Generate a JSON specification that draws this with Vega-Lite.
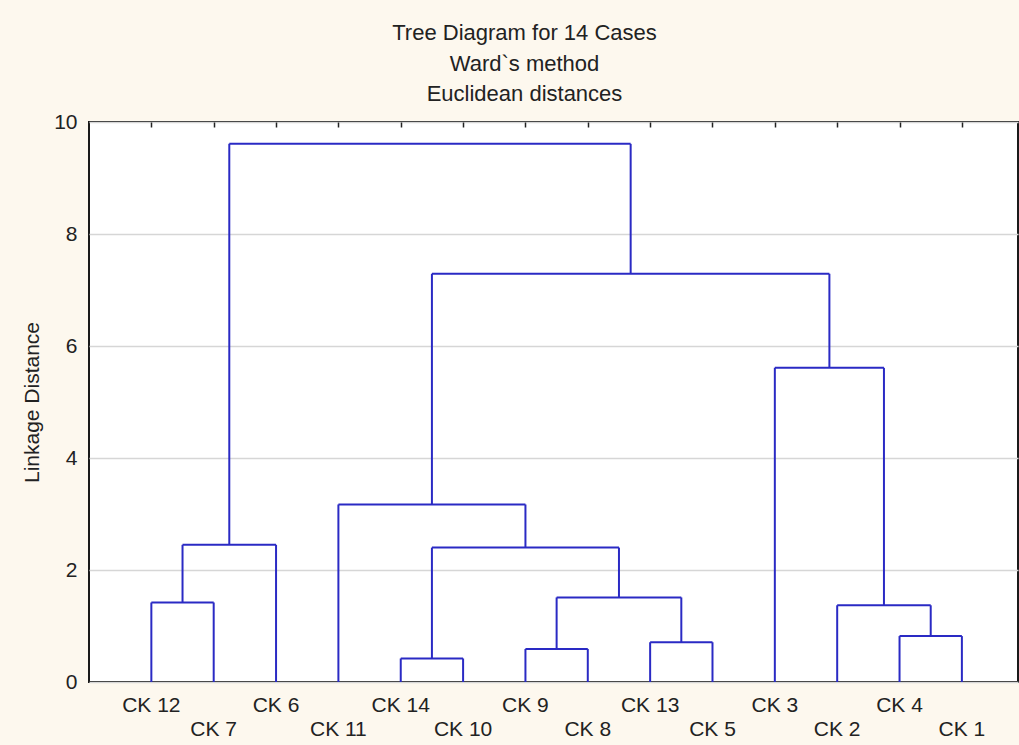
{
  "$schema": "https://vega.github.io/schema/vega-lite/v6.json",
  "width": 929,
  "height": 560,
  "autosize": "none",
  "padding": {"left": 89, "top": 122, "right": 1, "bottom": 63},
  "background": "#fdf8ee",
  "config": {
    "view": {"fill": "white", "stroke": "#1a1a1a", "strokeWidth": 2},
    "font": "Liberation Sans"
  },
  "title": {
    "text": ["Tree Diagram for 14 Cases", "Ward`s method", "Euclidean distances"],
    "fontSize": 22,
    "fontWeight": "normal",
    "lineHeight": 30.5,
    "anchor": "middle",
    "frame": "group",
    "dx": -29,
    "offset": 5,
    "color": "#222222"
  },
  "datasets": {
    "merges": [
      {"cluster": "CK 12 + CK 7", "xl": 1, "xr": 2, "hl": 0, "hr": 0, "h": 1.42},
      {"cluster": "+ CK 6", "xl": 1.5, "xr": 3, "hl": 1.42, "hr": 0, "h": 2.45},
      {"cluster": "CK 14 + CK 10", "xl": 5, "xr": 6, "hl": 0, "hr": 0, "h": 0.42},
      {"cluster": "CK 9 + CK 8", "xl": 7, "xr": 8, "hl": 0, "hr": 0, "h": 0.59},
      {"cluster": "CK 13 + CK 5", "xl": 9, "xr": 10, "hl": 0, "hr": 0, "h": 0.71},
      {"cluster": "(9,8) + (13,5)", "xl": 7.5, "xr": 9.5, "hl": 0.59, "hr": 0.71, "h": 1.51},
      {"cluster": "(14,10) + (9,8,13,5)", "xl": 5.5, "xr": 8.5, "hl": 0.42, "hr": 1.51, "h": 2.40},
      {"cluster": "CK 11 + ...", "xl": 4, "xr": 7, "hl": 0, "hr": 2.40, "h": 3.17},
      {"cluster": "CK 4 + CK 1", "xl": 13, "xr": 14, "hl": 0, "hr": 0, "h": 0.82},
      {"cluster": "CK 2 + (4,1)", "xl": 12, "xr": 13.5, "hl": 0, "hr": 0.82, "h": 1.37},
      {"cluster": "CK 3 + (2,4,1)", "xl": 11, "xr": 12.75, "hl": 0, "hr": 1.37, "h": 5.61},
      {"cluster": "middle + right", "xl": 5.5, "xr": 11.875, "hl": 3.17, "hr": 5.61, "h": 7.29},
      {"cluster": "root", "xl": 2.25, "xr": 8.6875, "hl": 2.45, "hr": 7.29, "h": 9.61}
    ],
    "leaves": [
      {"pos": 1, "name": "CK 12"},
      {"pos": 2, "name": "CK 7"},
      {"pos": 3, "name": "CK 6"},
      {"pos": 4, "name": "CK 11"},
      {"pos": 5, "name": "CK 14"},
      {"pos": 6, "name": "CK 10"},
      {"pos": 7, "name": "CK 9"},
      {"pos": 8, "name": "CK 8"},
      {"pos": 9, "name": "CK 13"},
      {"pos": 10, "name": "CK 5"},
      {"pos": 11, "name": "CK 3"},
      {"pos": 12, "name": "CK 2"},
      {"pos": 13, "name": "CK 4"},
      {"pos": 14, "name": "CK 1"}
    ]
  },
  "layer": [
    {
      "data": {"name": "merges"},
      "mark": {"type": "rule", "color": "#2a2ac4", "strokeWidth": 2},
      "encoding": {
        "x": {"field": "xl", "type": "quantitative", "scale": {"domain": [0, 14.9], "nice": false, "zero": false},
          "axis": {"orient": "top", "values": [1,2,3,4,5,6,7,8,9,10,11,12,13,14], "labels": false, "domain": false, "grid": false, "ticks": true, "tickSize": -5, "tickColor": "#222222", "tickWidth": 1.5, "title": null}},
        "y": {"field": "hl", "type": "quantitative", "scale": {"domain": [0, 10], "nice": false},
          "axis": {"title": "Linkage Distance", "titleFontSize": 21, "titleFontWeight": "normal", "titleColor": "#222222", "titlePadding": 11, "values": [0,2,4,6,8,10], "labelFontSize": 21, "labelColor": "#222222", "labelPadding": 12, "ticks": false, "domain": false, "grid": true, "gridColor": "#d6d6d6", "gridWidth": 1.3}},
        "y2": {"field": "h"}
      }
    },
    {
      "data": {"name": "merges"},
      "mark": {"type": "rule", "color": "#2a2ac4", "strokeWidth": 2},
      "encoding": {
        "x": {"field": "xr", "type": "quantitative",
          "axis": {"orient": "top", "values": [1,2,3,4,5,6,7,8,9,10,11,12,13,14], "labels": false, "domain": false, "grid": false, "ticks": true, "tickSize": -5, "tickColor": "#222222", "tickWidth": 1.5, "title": null}},
        "y": {"field": "hr", "type": "quantitative",
          "axis": {"title": "Linkage Distance", "titleFontSize": 21, "titleFontWeight": "normal", "titleColor": "#222222", "titlePadding": 11, "values": [0,2,4,6,8,10], "labelFontSize": 21, "labelColor": "#222222", "labelPadding": 12, "ticks": false, "domain": false, "grid": true, "gridColor": "#d6d6d6", "gridWidth": 1.3}},
        "y2": {"field": "h"}
      }
    },
    {
      "data": {"name": "merges"},
      "mark": {"type": "rule", "color": "#2a2ac4", "strokeWidth": 2},
      "encoding": {
        "x": {"field": "xl", "type": "quantitative",
          "axis": {"orient": "top", "values": [1,2,3,4,5,6,7,8,9,10,11,12,13,14], "labels": false, "domain": false, "grid": false, "ticks": true, "tickSize": -5, "tickColor": "#222222", "tickWidth": 1.5, "title": null}},
        "x2": {"field": "xr"},
        "y": {"field": "h", "type": "quantitative",
          "axis": {"title": "Linkage Distance", "titleFontSize": 21, "titleFontWeight": "normal", "titleColor": "#222222", "titlePadding": 11, "values": [0,2,4,6,8,10], "labelFontSize": 21, "labelColor": "#222222", "labelPadding": 12, "ticks": false, "domain": false, "grid": true, "gridColor": "#d6d6d6", "gridWidth": 1.3}}
      }
    },
    {
      "data": {"name": "leaves"},
      "transform": [{"filter": "datum.pos % 2 == 1"}],
      "mark": {"type": "text", "dy": 24, "baseline": "middle", "align": "center", "fontSize": 21, "color": "#222222"},
      "encoding": {
        "x": {"field": "pos", "type": "quantitative",
          "axis": {"orient": "top", "values": [1,2,3,4,5,6,7,8,9,10,11,12,13,14], "labels": false, "domain": false, "grid": false, "ticks": true, "tickSize": -5, "tickColor": "#222222", "tickWidth": 1.5, "title": null}},
        "y": {"datum": 0, "type": "quantitative",
          "axis": {"title": "Linkage Distance", "titleFontSize": 21, "titleFontWeight": "normal", "titleColor": "#222222", "titlePadding": 11, "values": [0,2,4,6,8,10], "labelFontSize": 21, "labelColor": "#222222", "labelPadding": 12, "ticks": false, "domain": false, "grid": true, "gridColor": "#d6d6d6", "gridWidth": 1.3}},
        "text": {"field": "name", "type": "nominal"}
      }
    },
    {
      "data": {"name": "leaves"},
      "transform": [{"filter": "datum.pos % 2 == 0"}],
      "mark": {"type": "text", "dy": 48, "baseline": "middle", "align": "center", "fontSize": 21, "color": "#222222"},
      "encoding": {
        "x": {"field": "pos", "type": "quantitative",
          "axis": {"orient": "top", "values": [1,2,3,4,5,6,7,8,9,10,11,12,13,14], "labels": false, "domain": false, "grid": false, "ticks": true, "tickSize": -5, "tickColor": "#222222", "tickWidth": 1.5, "title": null}},
        "y": {"datum": 0, "type": "quantitative",
          "axis": {"title": "Linkage Distance", "titleFontSize": 21, "titleFontWeight": "normal", "titleColor": "#222222", "titlePadding": 11, "values": [0,2,4,6,8,10], "labelFontSize": 21, "labelColor": "#222222", "labelPadding": 12, "ticks": false, "domain": false, "grid": true, "gridColor": "#d6d6d6", "gridWidth": 1.3}},
        "text": {"field": "name", "type": "nominal"}
      }
    }
  ]
}
